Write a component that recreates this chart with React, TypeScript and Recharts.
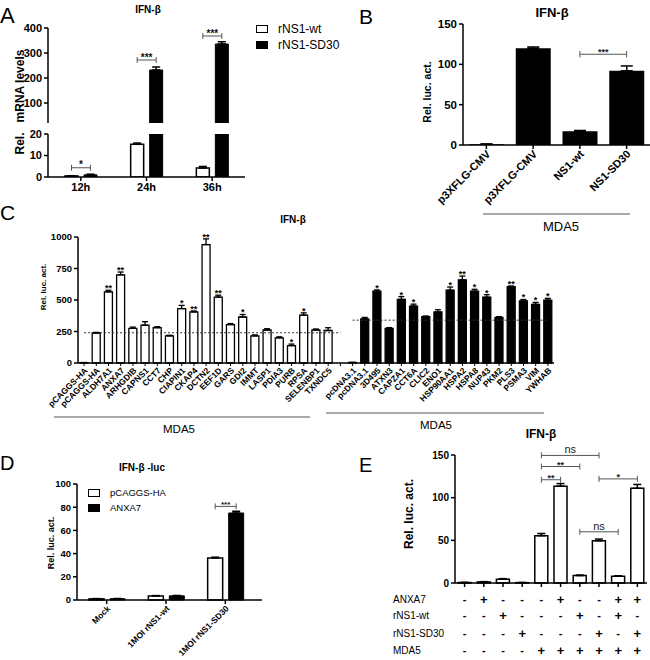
import React from 'react';
import { BarChart, Bar, XAxis, YAxis, ErrorBar, LabelList, ReferenceLine, Legend, Cell } from 'recharts';

const FONT = '"Liberation Sans", Arial, Helvetica, sans-serif';
const AX = { stroke: '#000', strokeWidth: 1.5 };
const BR = '#555';

// ---------------- Panel A data ----------------
const aCategories = ['12h', '24h', '36h'];
const aSeriesNames = ['rNS1-wt', 'rNS1-SD30'];
const aWt = [0.5, 15.2, 4.2];
const aWtErr = [0.1, 0.6, 0.7];
const aSd = [1.0, 232, 336];
const aSdErr = [0.3, 12, 9];
const aSig = ['*', '***', '***'];
const aSigLevel = [4.3, 272, 368];
const aBreak = 20;
const aTopTicks = [100, 200, 300, 400];
const aBottomTicks = [0, 10, 20];

// ---------------- Panel B data ----------------
const bCategories = ['p3XFLG-CMV', 'p3XFLG-CMV', 'NS1-wt', 'NS1-SD30'];
const bValues = [1, 120, 17, 92];
const bErrors = [0.3, 1.5, 1, 6];
const bBrackets = [{ from: 2, to: 3, y: 112.5, label: '***' }];
const bTicks = [0, 50, 100, 150];

// ---------------- Panel C data ----------------
const cLeftNames = ['pCAGGS-HA', 'pCAGGS-HA', 'ALDH7A1', 'ANXA7', 'ARHGDIB', 'CAPNS1', 'CCT7', 'CHP', 'CIAPIN1', 'CKAP4', 'DCTN2', 'EEF1D', 'GARS', 'GDI2', 'IMMT', 'LASP1', 'PDIA3', 'PURB', 'RPSA', 'SELENBP1', 'TXNDC5'];
const cLeftValues = [3, 238, 565, 700, 275, 300, 280, 215, 432, 405, 940, 523, 305, 365, 215, 262, 200, 138, 380, 262, 258];
const cLeftErrors = [1, 5, 12, 22, 10, 28, 8, 5, 25, 8, 45, 15, 8, 20, 8, 10, 8, 12, 18, 8, 22];
const cLeftSig = ['', '', '**', '**', '', '', '', '', '*', '**', '**', '**', '', '*', '', '', '', '*', '*', '', ''];
const cRightNames = ['pcDNA3.1', 'pcDNA3.1', '3D495', 'ATXN3', 'CAPZA1', 'CCT6A', 'CLIC2', 'ENO1', 'HSP90AA1', 'HSPA2', 'HSPA8', 'NUP43', 'PKM2', 'PLS3', 'PSMA3', 'VIM', 'YWHAB'];
const cRightValues = [4, 350, 570, 275, 505, 452, 368, 405, 578, 660, 570, 522, 362, 605, 492, 466, 498];
const cRightErrors = [1, 12, 10, 6, 22, 15, 5, 18, 25, 30, 15, 20, 6, 6, 12, 15, 15];
const cRightSig = ['', '', '*', '', '*', '*', '', '', '*', '**', '*', '*', '', '**', '*', '*', '*'];
const cLeftControl = 240;
const cRightControl = 340;
const cTicks = [0, 250, 500, 750, 1000];

// ---------------- Panel D data ----------------
const dCategories = ['Mock', '1MOI rNS1-wt', '1MOI rNS1-SD30'];
const dSeriesNames = ['pCAGGS-HA', 'ANXA7'];
const dHa = [1, 3.5, 36.3];
const dHaErr = [0.2, 0.3, 0.6];
const dAnx = [1.1, 3.6, 75];
const dAnxErr = [0.2, 0.3, 1.5];
const dSig = ['', '', '***'];
const dSigLevel = [0, 0, 80.7];
const dTicks = [0, 20, 40, 60, 80, 100];

// ---------------- Panel E data ----------------
const eValues = [0.5, 1.2, 4.5, 0.4, 55.5, 113.5, 8.7, 49.5, 8.0, 111];
const eErrors = [0.2, 0.4, 0.6, 0.2, 2.5, 3.0, 0.6, 2.0, 0.4, 4.5];
const eRowLabels = ['ANXA7', 'rNS1-wt', 'rNS1-SD30', 'MDA5'];
const eAnxa7 = ['-', '+', '-', '-', '-', '+', '-', '-', '+', '+'];
const eWt = ['-', '-', '+', '-', '-', '-', '+', '-', '+', '-'];
const eSd = ['-', '-', '-', '+', '-', '-', '-', '+', '-', '+'];
const eMda5 = ['-', '-', '-', '-', '+', '+', '+', '+', '+', '+'];
const eBrackets = [
  { from: 4, to: 7, y: 149.5, label: 'ns' },
  { from: 4, to: 6, y: 136.5, label: '**' },
  { from: 4, to: 5, y: 121, label: '**' },
  { from: 7, to: 9, y: 122, label: '*' },
  { from: 6, to: 8, y: 60, label: 'ns' },
];
const eTicks = [0, 50, 100, 150];

// ---------------- derived tables ----------------
const aBottomData = aCategories.map((c, i) => ({ cat: c, wt: aWt[i], wtErr: [0, aWtErr[i]], sd: aSd[i], sdErr: [0, aSdErr[i]] }));
const aTopData = aCategories.map((c, i) => ({
  cat: c,
  wt: aWt[i] > aBreak ? aWt[i] : null,
  wtErr: [0, aWtErr[i]],
  sd: aSd[i] > aBreak ? aSd[i] : null,
  sdErr: [0, aSdErr[i]],
}));
const bKeys = bCategories.map((_, i) => `b${i}`);
const bData = bCategories.map((n, i) => ({ key: bKeys[i], v: bValues[i], err: [0, bErrors[i]] }));
const bNames: Record<string, string> = Object.fromEntries(bKeys.map((k, i) => [k, bCategories[i]]));

type CRow = { key: string; name: string; v: number; err: number[]; sig: string; e: number; dark: boolean; gap?: boolean };
const cRows: CRow[] = [
  ...cLeftNames.map((n, i) => ({ key: `L${i}`, name: n, v: cLeftValues[i], err: [0, cLeftErrors[i]], e: cLeftErrors[i], sig: cLeftSig[i], dark: false })),
  { key: 'GAP', name: '', v: 0, err: [0, 0], e: 0, sig: '', dark: false, gap: true },
  ...cRightNames.map((n, i) => ({ key: `R${i}`, name: n, v: cRightValues[i], err: [0, cRightErrors[i]], e: cRightErrors[i], sig: cRightSig[i], dark: true })),
];
const cNames: Record<string, string> = Object.fromEntries(cRows.map((r) => [r.key, r.name]));
const cByKey: Record<string, CRow> = Object.fromEntries(cRows.map((r) => [r.key, r]));

const dData = dCategories.map((c, i) => ({ cat: c, ha: dHa[i], haErr: [0, dHaErr[i]], anx: dAnx[i], anxErr: [0, dAnxErr[i]] }));
const dNames: Record<string, string> = Object.fromEntries(dCategories.map((c) => [c, c]));

const eKeys = eValues.map((_, i) => `e${i}`);
const eData = eValues.map((v, i) => ({ key: eKeys[i], v, err: [0, eErrors[i]] }));
const eSignRows = [eAnxa7, eWt, eSd, eMda5];

// ---------------- helpers ----------------
const tickStyle = (fs: number) => ({ fill: '#000', fontSize: fs, fontWeight: 'bold', fontFamily: FONT });

function groupBracket(values: number[], sig: string[], level: number[], base: number, gap: number, keep: (i: number) => boolean, starSize: number) {
  return (props: any) => {
    const vb = props.viewBox && props.viewBox.width !== undefined ? props.viewBox : props;
    const { x, y, width, height } = vb;
    const v = Number(props.value);
    const i = values.indexOf(v);
    if (i < 0 || !sig[i] || !keep(i) || !Number.isFinite(v) || v === base || !height) return null;
    const ppu = height / (v - base);
    const by = y + height - (level[i] - base) * ppu;
    const x2 = x + width / 2;
    const x1 = x - gap - width / 2;
    return (
      <g key={`gb${i}`}>
        <line x1={x1} x2={x2} y1={by} y2={by} stroke={BR} strokeWidth={1} />
        <line x1={x1} x2={x1} y1={by - 3} y2={by + 3} stroke={BR} strokeWidth={1} />
        <line x1={x2} x2={x2} y1={by - 3} y2={by + 3} stroke={BR} strokeWidth={1} />
        <text x={(x1 + x2) / 2} y={by + 0.5} textAnchor="middle" fontSize={starSize} fontWeight="bold" fontFamily={FONT} fill="#111">{sig[i]}</text>
      </g>
    );
  };
}

function bracketLines(keys: string[], list: { from: number; to: number; y: number; label: string }[], cap: number, prefix: string) {
  return list.flatMap((b, j) => {
    const isNs = b.label === 'ns';
    return [
      <ReferenceLine
        key={`${prefix}h${j}`}
        segment={[{ x: keys[b.from], y: b.y }, { x: keys[b.to], y: b.y }]}
        stroke={BR}
        strokeWidth={1}
        ifOverflow="visible"
        label={{ value: b.label, position: 'top', offset: isNs ? 2 : -1, fill: '#222', fontSize: isNs ? 11 : 9, fontWeight: isNs ? 'normal' : 'bold', fontFamily: FONT }}
      />,
      <ReferenceLine key={`${prefix}l${j}`} segment={[{ x: keys[b.from], y: b.y - cap }, { x: keys[b.from], y: b.y + cap }]} stroke={BR} strokeWidth={1} ifOverflow="visible" />,
      <ReferenceLine key={`${prefix}r${j}`} segment={[{ x: keys[b.to], y: b.y - cap }, { x: keys[b.to], y: b.y + cap }]} stroke={BR} strokeWidth={1} ifOverflow="visible" />,
    ];
  });
}

function RotTick(props: any) {
  const { x, y, payload, names, fontSize } = props;
  const label = names[payload.value] ?? payload.value;
  return (
    <g transform={`translate(${x + 2},${y + 1})`}>
      <text textAnchor="end" transform="rotate(-45)" fontSize={fontSize} fontWeight="bold" fontFamily={FONT} fill="#000" dy="0.35em">
        {label}
      </text>
    </g>
  );
}

const eRowOffsets = [10, 26, 44, 61];
function SignTick(props: any) {
  const { x, y, payload } = props;
  const i = eKeys.indexOf(payload.value);
  return (
    <g>
      {eSignRows.map((row, r) => (
        <text key={r} x={x} y={y + eRowOffsets[r]} textAnchor="middle" dominantBaseline="central" fontSize={row[i] === '+' ? 13 : 11} fontWeight="bold" fontFamily={FONT} fill="#000">
          {row[i]}
        </text>
      ))}
    </g>
  );
}

function BoxLegend({ payload, order, fontSize, rowH }: any) {
  const items = [...(payload || [])].sort((p: any, q: any) => order.indexOf(p.value) - order.indexOf(q.value));
  return (
    <div style={{ fontFamily: FONT, fontSize, color: '#000' }}>
      {items.map((p: any) => (
        <div key={p.value} style={{ display: 'flex', alignItems: 'center', height: rowH, whiteSpace: 'nowrap' }}>
          <span style={{ display: 'inline-block', width: 10, height: 6, border: '1.5px solid #000', background: p.color, marginRight: 10 }} />
          <span>{p.value}</span>
        </div>
      ))}
    </div>
  );
}

// ---------------- panels ----------------
function PanelA() {
  return (
    <>
      <div style={{ position: 'absolute', left: 0, top: 0 }}>
        <BarChart width={340} height={125} data={aTopData} margin={{ top: 28, right: 95, bottom: 2, left: 0 }} barSize={13} barGap={6}>
          <XAxis dataKey="cat" hide />
          <YAxis type="number" domain={[aBreak, 400]} ticks={aTopTicks} interval={0} allowDataOverflow width={48} axisLine={AX} tickLine={AX} tickSize={4} tick={tickStyle(11)} />
          <Legend
            layout="vertical"
            align="center"
            verticalAlign="middle"
            wrapperStyle={{ left: 256, top: 21, width: 90 }}
            content={(p: any) => <BoxLegend payload={p.payload} order={aSeriesNames} fontSize={12} rowH={16} />}
          />
          <Bar dataKey="wt" name={aSeriesNames[0]} fill="#fff" stroke="#000" strokeWidth={1.5} isAnimationActive={false}>
            <ErrorBar dataKey="wtErr" width={4} stroke="#000" strokeWidth={1.5} direction="y" />
          </Bar>
          <Bar dataKey="sd" name={aSeriesNames[1]} fill="#000" stroke="#000" strokeWidth={1} isAnimationActive={false}>
            <ErrorBar dataKey="sdErr" width={4} stroke="#000" strokeWidth={1.5} direction="y" />
            <LabelList dataKey="sd" content={groupBracket(aSd, aSig, aSigLevel, aBreak, 6, (i) => aSigLevel[i] > aBreak, 10)} />
          </Bar>
        </BarChart>
      </div>
      <div style={{ position: 'absolute', left: 0, top: 120 }}>
        <BarChart width={250} height={80} data={aBottomData} margin={{ top: 14, right: 5, bottom: 3, left: 0 }} barSize={13} barGap={6}>
          <XAxis dataKey="cat" axisLine={AX} tickLine={AX} tickSize={4} tick={tickStyle(11)} height={20} interval={0} />
          <YAxis type="number" domain={[0, aBreak]} ticks={aBottomTicks} interval={0} allowDataOverflow width={48} axisLine={AX} tickLine={AX} tickSize={4} tick={tickStyle(11)} />
          <Bar dataKey="wt" name={aSeriesNames[0]} fill="#fff" stroke="#000" strokeWidth={1.5} isAnimationActive={false}>
            <ErrorBar dataKey="wtErr" width={4} stroke="#000" strokeWidth={1.5} direction="y" />
          </Bar>
          <Bar dataKey="sd" name={aSeriesNames[1]} fill="#000" stroke="#000" strokeWidth={1} isAnimationActive={false}>
            <ErrorBar dataKey="sdErr" width={4} stroke="#000" strokeWidth={1.5} direction="y" />
            <LabelList dataKey="sd" content={groupBracket(aSd, aSig, aSigLevel, 0, 6, (i) => aSigLevel[i] <= aBreak, 10)} />
          </Bar>
        </BarChart>
      </div>
    </>
  );
}

function PanelB() {
  return (
    <div style={{ position: 'absolute', left: 330, top: 0 }}>
      <BarChart width={320} height={210} data={bData} margin={{ top: 24, right: 0, bottom: 3, left: 0 }} barSize={35}>
        <XAxis dataKey="key" axisLine={AX} tickLine={AX} tickSize={4} height={62} interval={0} tick={(p: any) => <RotTick {...p} names={bNames} fontSize={11} />} />
        <YAxis type="number" domain={[0, 150]} ticks={bTicks} interval={0} width={133} axisLine={AX} tickLine={AX} tickSize={4} tick={tickStyle(11.5)} />
        <Bar dataKey="v" fill="#000" isAnimationActive={false}>
          <ErrorBar dataKey="err" width={6} stroke="#000" strokeWidth={1.5} direction="y" />
        </Bar>
        {bracketLines(bKeys, bBrackets, 4, 'b')}
      </BarChart>
    </div>
  );
}

function PanelC() {
  const star = (props: any) => {
    const row = cByKey[String(props.value)];
    const vb = props.viewBox && props.viewBox.width !== undefined ? props.viewBox : props;
    const { x, y, width, height } = vb;
    if (!row || !row.sig || !row.v || !height) return null;
    const ppu = height / row.v;
    const ty = y - row.e * ppu + 1;
    return (
      <text key={`cs${row.key}`} x={x + width / 2} y={ty} textAnchor="middle" fontSize={9} fontWeight="bold" fontFamily={FONT} fill="#000">
        {row.sig}
      </text>
    );
  };
  const lastR = `R${cRightNames.length - 1}`;
  return (
    <div style={{ position: 'absolute', left: 0, top: 200 }}>
      <BarChart width={560} height={215} data={cRows} margin={{ top: 37, right: 6, bottom: 12, left: 0 }} barSize={8}>
        <XAxis dataKey="key" axisLine={AX} tickLine={{ stroke: '#000', strokeWidth: 1 }} tickSize={3} height={40} interval={0} tick={(p: any) => <RotTick {...p} names={cNames} fontSize={8.5} />} />
        <YAxis type="number" domain={[0, 1000]} ticks={cTicks} interval={0} width={78} axisLine={AX} tickLine={AX} tickSize={4} tick={tickStyle(9.5)} />
        <ReferenceLine segment={[{ x: 'L0', y: cLeftControl }, { x: 'GAP', y: cLeftControl }]} stroke="#333" strokeWidth={1} strokeDasharray="2 2" ifOverflow="visible" />
        <ReferenceLine segment={[{ x: 'R0', y: cRightControl }, { x: lastR, y: cRightControl }]} stroke="#333" strokeWidth={1} strokeDasharray="2 2" ifOverflow="visible" />
        <Bar dataKey="v" isAnimationActive={false}>
          {cRows.map((r) => (
            <Cell key={r.key} fill={r.gap ? 'none' : r.dark ? '#000' : '#fff'} stroke={r.gap ? 'none' : '#000'} strokeWidth={1.3} />
          ))}
          <ErrorBar dataKey="err" width={3} stroke="#000" strokeWidth={1.3} direction="y" />
          <LabelList dataKey="key" content={star} />
        </Bar>
      </BarChart>
    </div>
  );
}

function PanelD() {
  return (
    <div style={{ position: 'absolute', left: 0, top: 460 }}>
      <BarChart width={265} height={198} data={dData} margin={{ top: 24, right: 3, bottom: 8, left: 0 }} barSize={15} barGap={6}>
        <XAxis dataKey="cat" axisLine={AX} tickLine={AX} tickSize={4} height={50} interval={0} padding={{ left: 0, right: 7 }} tick={(p: any) => <RotTick {...p} names={dNames} fontSize={8.5} />} />
        <YAxis type="number" domain={[0, 100]} ticks={dTicks} interval={0} width={77} axisLine={AX} tickLine={AX} tickSize={4} tick={tickStyle(9.5)} />
        <Legend
          layout="vertical"
          align="center"
          verticalAlign="middle"
          wrapperStyle={{ left: 88, top: 25, width: 110 }}
          content={(p: any) => <BoxLegend payload={p.payload} order={dSeriesNames} fontSize={9.5} rowH={15} />}
        />
        <Bar dataKey="ha" name={dSeriesNames[0]} fill="#fff" stroke="#000" strokeWidth={1.5} isAnimationActive={false}>
          <ErrorBar dataKey="haErr" width={4} stroke="#000" strokeWidth={1.5} direction="y" />
        </Bar>
        <Bar dataKey="anx" name={dSeriesNames[1]} fill="#000" stroke="#000" strokeWidth={1} isAnimationActive={false}>
          <ErrorBar dataKey="anxErr" width={4} stroke="#000" strokeWidth={1.5} direction="y" />
          <LabelList dataKey="anx" content={groupBracket(dAnx, dSig, dSigLevel, 0, 6, () => true, 8)} />
        </Bar>
      </BarChart>
    </div>
  );
}

function PanelE() {
  return (
    <div style={{ position: 'absolute', left: 330, top: 430 }}>
      <BarChart width={320} height={230} data={eData} margin={{ top: 25, right: 3, bottom: 2, left: 0 }} barSize={13}>
        <XAxis dataKey="key" axisLine={AX} tickLine={AX} tickSize={4} tickMargin={2} height={75} interval={0} tick={(p: any) => <SignTick {...p} />} />
        <YAxis type="number" domain={[0, 150]} ticks={eTicks} interval={0} width={125} axisLine={AX} tickLine={AX} tickSize={4} tick={tickStyle(10)} />
        <Bar dataKey="v" fill="#fff" stroke="#000" strokeWidth={1.5} isAnimationActive={false}>
          <ErrorBar dataKey="err" width={4} stroke="#000" strokeWidth={1.5} direction="y" />
        </Bar>
        {bracketLines(eKeys, eBrackets, 3.5, 'e')}
      </BarChart>
    </div>
  );
}

function VLabel({ x, y, size, children }: any) {
  return (
    <text transform={`translate(${x},${y}) rotate(-90)`} textAnchor="middle" dominantBaseline="central" fontSize={size} fontWeight="bold" fill="#000" style={{ whiteSpace: 'pre' }}>
      {children}
    </text>
  );
}

function Overlay() {
  const t = (x: number, y: number, s: number, txt: string, bold = true) => (
    <text x={x} y={y} textAnchor="middle" dominantBaseline="central" fontSize={s} fontWeight={bold ? 'bold' : 'normal'} fill="#000">
      {txt}
    </text>
  );
  return (
    <svg width={650} height={660} style={{ position: 'absolute', left: 0, top: 0, pointerEvents: 'none' }} fontFamily={FONT}>
      {/* panel letters */}
      <text x={0} y={22.5} fontSize={22} fill="#000">A</text>
      <text x={359} y={23.5} fontSize={21} fill="#000">B</text>
      <text x={0} y={220} fontSize={21} fill="#000">C</text>
      <text x={0} y={470} fontSize={20} fill="#000">D</text>
      <text x={359} y={472} fontSize={20} fill="#000">E</text>
      {/* titles */}
      {t(148, 9, 10, 'IFN-β')}
      {t(552, 12, 13, 'IFN-β')}
      {t(293, 219, 10, 'IFN-β')}
      {t(142, 467, 10, 'IFN-β -luc')}
      {t(541, 434, 12, 'IFN-β')}
      {/* axis titles */}
      <VLabel x={20} y={102} size={12}>{'Rel.   mRNA levels'}</VLabel>
      <VLabel x={427} y={92} size={10.5}>Rel. luc. act.</VLabel>
      <VLabel x={43} y={287} size={8}>Rel. luc. act.</VLabel>
      <VLabel x={51} y={543} size={9}>Rel. luc. act.</VLabel>
      <VLabel x={409} y={514} size={12}>Rel. luc. act.</VLabel>
      {/* MDA5 group brackets */}
      <line x1={483} x2={630} y1={214} y2={214} stroke="#555" strokeWidth={1} />
      {t(561, 226, 13, 'MDA5', false)}
      <line x1={54} x2={310} y1={417} y2={417} stroke="#555" strokeWidth={1} />
      {t(179, 429, 11.5, 'MDA5', false)}
      <line x1={326} x2={544} y1={413} y2={413} stroke="#555" strokeWidth={1} />
      {t(436, 425, 11.5, 'MDA5', false)}
      {/* E table row labels */}
      {eRowLabels.map((l, r) => (
        <text key={l} x={393} y={[599, 615, 633, 650][r]} dominantBaseline="central" fontSize={10} fill="#000">
          {l}
        </text>
      ))}
    </svg>
  );
}

export default function App() {
  return (
    <div style={{ position: 'absolute', left: 0, top: 0, width: 650, height: 660, background: '#fff', overflow: 'hidden', fontFamily: FONT }}>
      <PanelA />
      <PanelB />
      <PanelC />
      <PanelD />
      <PanelE />
      <Overlay />
    </div>
  );
}
